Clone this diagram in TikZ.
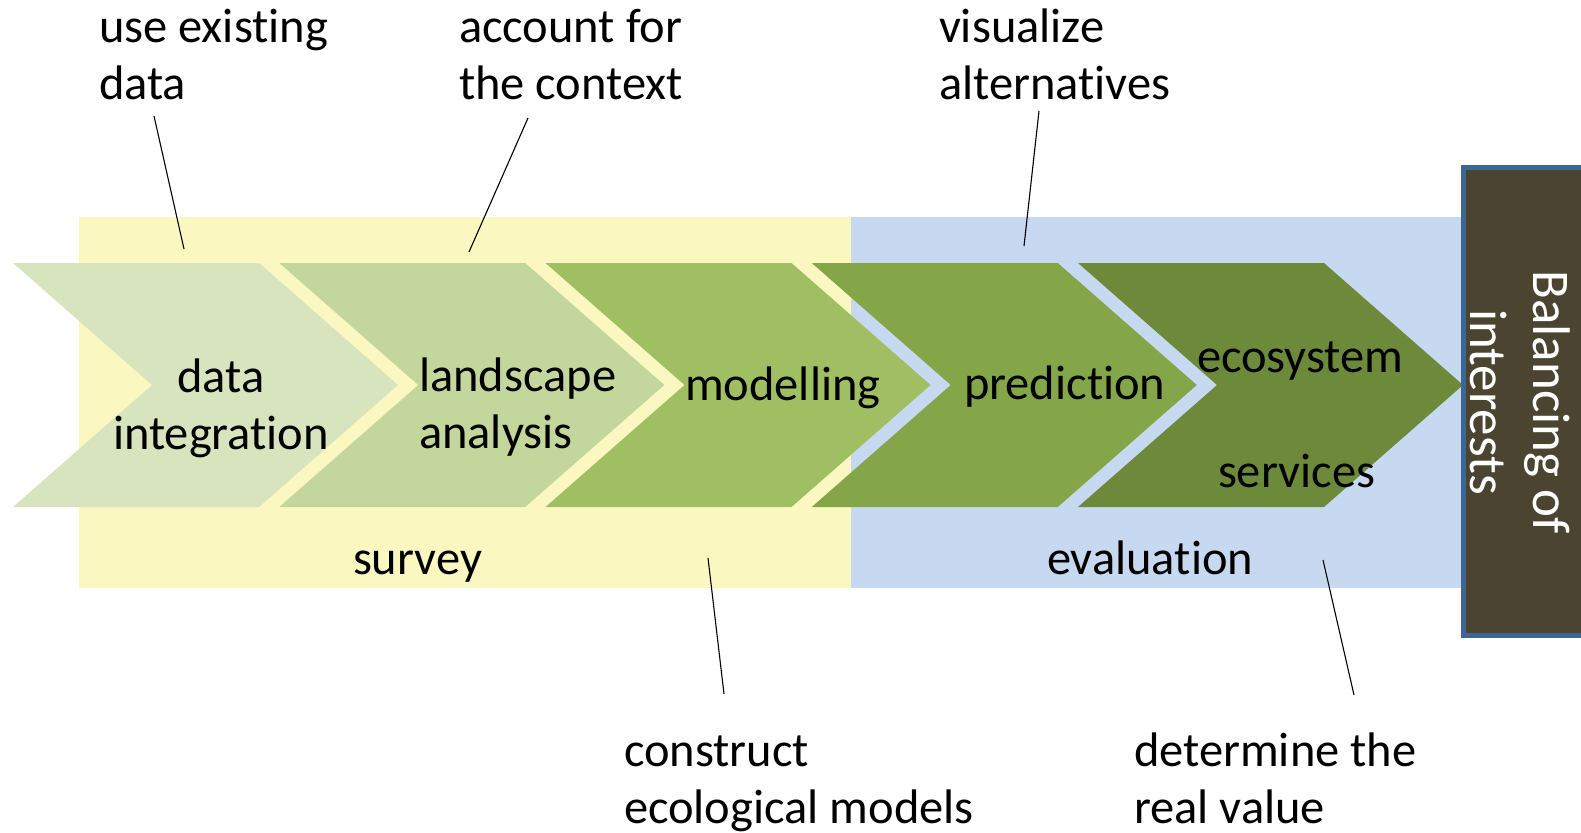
\documentclass[tikz,border=0pt]{standalone}
\usepackage{fontspec}
\setmainfont{Carlito}[Ligatures=NoCommon]
\definecolor{yellowbg}{HTML}{FAF8C0}
\definecolor{bluebg}{HTML}{C6D9F0}
\definecolor{cA}{HTML}{D7E4BD}
\definecolor{cB}{HTML}{C3D69B}
\definecolor{cC}{HTML}{A0BF63}
\definecolor{cD}{HTML}{84A548}
\definecolor{cE}{HTML}{6D8A3B}
\definecolor{darkbox}{HTML}{4A4430}
\definecolor{boxborder}{HTML}{3D6596}
\begin{document}
\begin{tikzpicture}[x=1pt,y=-1pt,
  txt/.style={inner sep=0pt, outer sep=0pt, font=\fontsize{48.5}{57}\selectfont, align=left, anchor=base west},
  ctxt/.style={txt, align=center, anchor=base},
  pointer/.style={draw=black, line width=1.1pt}]
\useasboundingbox (0,0) rectangle (1581,832);
\clip (0,0) rectangle (1581,832);
% background bands
\fill[yellowbg] (79,217) rectangle (851,588);
\fill[bluebg] (851,217) rectangle (1462,588);
% chevrons
\foreach \xo/\col in {13/cA, 279.25/cB, 545.5/cC, 811.75/cD, 1078/cE}{
  \fill[\col] (\xo,263) -- ++(246,0) -- ++(139,122) -- ++(-139,122) -- ++(-246,0) -- ++(139,-122) -- cycle;
}
% balancing box
\draw[fill=darkbox, draw=boxborder, line width=5pt] (1463.5,167.5) rectangle (1600,635.5);
\node[inner sep=0pt, rotate=-90, align=center, text=white, font=\fontsize{53}{63}\selectfont] (bal) at (1520,402) {Balancing of\\interests};
% chevron labels
\node[ctxt] (di) at (221,449) {data\\integration};
\node[txt] (la) at (419,448) {landscape\\analysis};
\node[txt] (mo) at (685,400) {modelling};
\node[txt] (pr) at (964,399) {prediction};
\node[txt] (ec) at (1197,372) {ecosystem};
\node[txt] (se) at (1218,487) {services};
% band labels
\node[txt] (su) at (353,574) {survey};
\node[txt] (ev) at (1047,574) {evaluation};
% annotations
\node[txt] (a1) at (99,100) {use existing\\data};
\node[txt] (a2) at (459,100) {account for\\the context};
\node[txt] (a3) at (939,100) {visualize\\alternatives};
\node[txt] (a4) at (624,823) {construct\\ecological models};
\node[txt] (a5) at (1134,823) {determine the\\real value};
% pointer lines
\coordinate (p1a) at (154,116); \coordinate (p1b) at (184,249);
\coordinate (p2a) at (528,118); \coordinate (p2b) at (469,252);
\coordinate (p3a) at (1039,111); \coordinate (p3b) at (1024,246);
\coordinate (p4a) at (708,558); \coordinate (p4b) at (724,694);
\coordinate (p5a) at (1323,560); \coordinate (p5b) at (1354,695);
\draw[pointer] (p1a) -- (p1b);
\draw[pointer] (p2a) -- (p2b);
\draw[pointer] (p3a) -- (p3b);
\draw[pointer] (p4a) -- (p4b);
\draw[pointer] (p5a) -- (p5b);
\end{tikzpicture}
\end{document}
